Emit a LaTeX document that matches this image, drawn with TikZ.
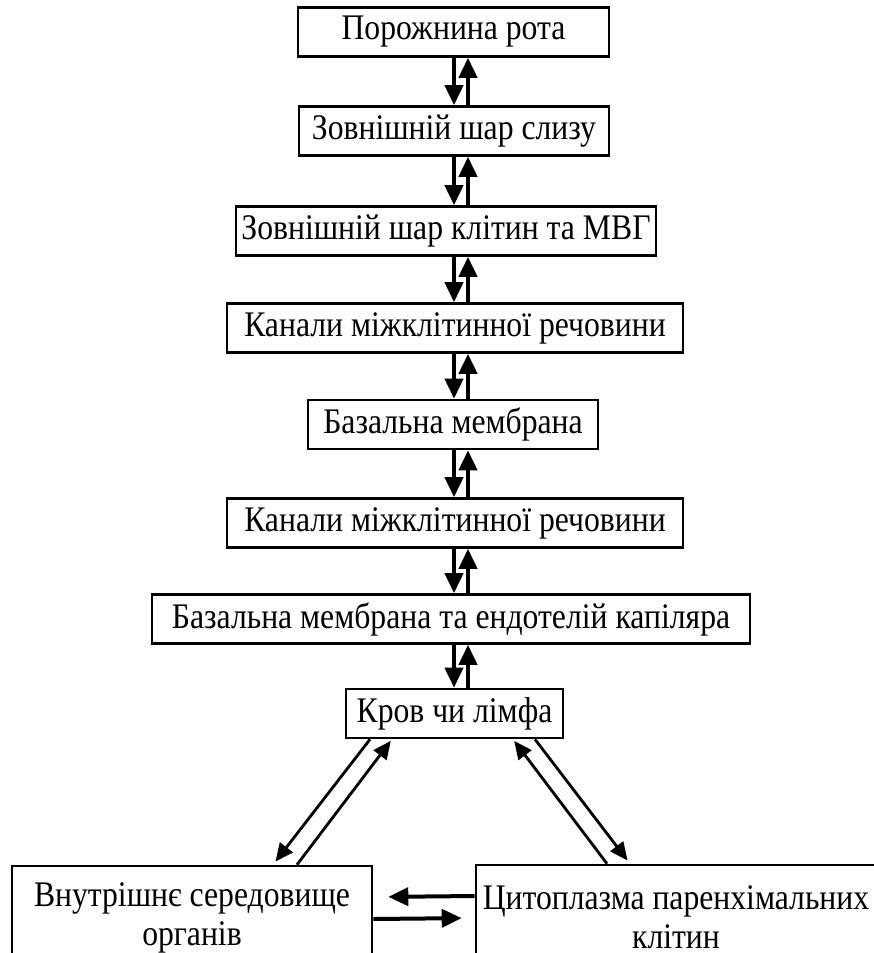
\documentclass[tikz,border=0pt]{standalone}
\usepackage{fontspec}
\setmainfont{Liberation Serif}[FakeStretch=0.88]
\usetikzlibrary{arrows.meta}

\begin{document}
\begin{tikzpicture}[x=0.5pt,y=-0.5pt,align=center,
  blok/.style={draw,line width=1.3pt,inner sep=0pt,minimum height=24.5pt,font=\fontsize{18}{19.5}\selectfont},
  arr/.style={line width=2pt,-{Triangle[length=10pt,width=9pt]}},
  diag/.style={line width=1.4pt,-{Triangle[length=9pt,width=8pt]}}]
\useasboundingbox (0,0) rectangle (873,953);
\node[blok,minimum width=155.5pt] (b1) at (453.5,32) {Порожнина рота};
\node[blok,minimum width=155pt] (b2) at (454,131) {Зовнішній шар слизу};
\node[blok,minimum width=210pt] (b3) at (446,231) {Зовнішній шар клітин та МВГ};
\node[blok,minimum width=228pt] (b4) at (455,328) {Канали міжклітинної речовини};
\node[blok,minimum width=145pt] (b5) at (453,424.5) {Базальна мембрана};
\node[blok,minimum width=228pt] (b6) at (455,523) {Канали міжклітинної речовини};
\node[blok,minimum width=299pt] (b7) at (451,619) {Базальна мембрана та ендотелій капіляра};
\node[blok,minimum width=108.5pt] (b8) at (454.5,713.5) {Кров чи лімфа};
\node[blok,minimum width=180pt,minimum height=52pt] (b9) at (192,918) {Внутрішнє середовище\\органів};
\node[blok,minimum width=200pt,minimum height=52pt] (b10) at (676,917) {Цитоплазма паренхімальних\\клітин};
\coordinate (dn) at (454,0);
\coordinate (up) at (468,0);
\foreach \a/\b in {b1/b2,b2/b3,b3/b4,b4/b5,b5/b6,b6/b7,b7/b8} {
  \draw[arr] (dn |- \a.south) -- (dn |- \b.north);
  \draw[arr] (up |- \b.north) -- (up |- \a.south);
}
\draw[diag,shorten >=2pt] ([xshift=-42.25pt]b8.south) -- ([xshift=40.5pt]b9.north);
\draw[diag,shorten >=1pt] ([xshift=52.5pt]b9.north) -- ([xshift=-31.25pt]b8.south);
\draw[diag,shorten >=1pt] ([xshift=-34.5pt]b10.north) -- ([xshift=29.25pt]b8.south);
\draw[diag,shorten >=2pt] ([xshift=40.25pt]b8.south) -- ([xshift=-23pt]b10.north);
\draw[arr,shorten >=7.5pt] ([yshift=10.5pt]b10.west) -- ([yshift=10.5pt]b9.east);
\draw[arr,shorten >=6.5pt] ([yshift=-0.5pt]b9.east) -- ([yshift=-0.5pt]b10.west);
\end{tikzpicture}
\end{document}
